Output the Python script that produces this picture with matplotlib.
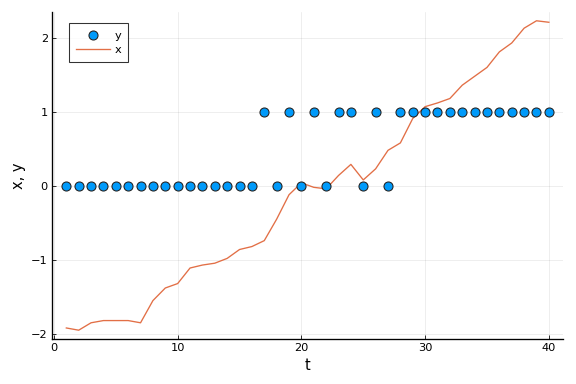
import matplotlib
matplotlib.use("Agg")
import matplotlib.pyplot as plt

# data
t = list(range(1, 41))
y = [0] * 16 + [1, 0, 1, 0, 1, 0, 1, 1, 0, 1, 0] + [1] * 13
x = [-1.92, -1.95, -1.85, -1.82, -1.82, -1.82, -1.85, -1.55, -1.38, -1.32,
     -1.11, -1.07, -1.045, -0.98, -0.86, -0.82, -0.74, -0.45, -0.12, 0.04,
     -0.02, -0.04, 0.14, 0.29, 0.08, 0.23, 0.48, 0.58, 0.91, 1.07,
     1.12, 1.18, 1.36, 1.48, 1.60, 1.81, 1.93, 2.13, 2.23, 2.21]

plt.rcParams["font.family"] = "DejaVu Sans"
fig = plt.figure(figsize=(6, 4), dpi=96)
ax = fig.add_axes([0.09, 0.117, 0.888, 0.852])

ax.scatter(t, y, s=46, color="#009AFA", edgecolors="#222222", linewidths=0.8,
           label="y", zorder=3)
ax.plot(t, x, color="#E26F46", linewidth=1.0, label="x", zorder=2)

ax.set_xlim(-0.17, 41.17)
ax.set_ylim(-2.07, 2.35)
ax.set_xticks([0, 10, 20, 30, 40])
ax.set_yticks([-2, -1, 0, 1, 2])
ax.set_yticklabels(["\u22122", "\u22121", "0", "1", "2"])
ax.grid(True, color="#000000", alpha=0.1, linewidth=0.5)
ax.set_axisbelow(True)
for side in ["top", "right"]:
    ax.spines[side].set_visible(False)
ax.spines["left"].set_linewidth(1.0)
ax.spines["bottom"].set_linewidth(1.0)
ax.tick_params(direction="in", length=3, labelsize=8.5, width=0.6, pad=3)
ax.set_xlabel("t", fontsize=11)
ax.set_ylabel("x, y", fontsize=11)

leg = ax.legend(loc="upper left", fontsize=8.5, frameon=True, fancybox=False,
                edgecolor="#000000", borderpad=0.6, handlelength=3.0,
                handleheight=1.0, handletextpad=0.4, labelspacing=0.3,
                borderaxespad=0, bbox_to_anchor=(0.034, 0.966))
leg.get_frame().set_linewidth(0.8)

fig.savefig("out.png", dpi=96)
